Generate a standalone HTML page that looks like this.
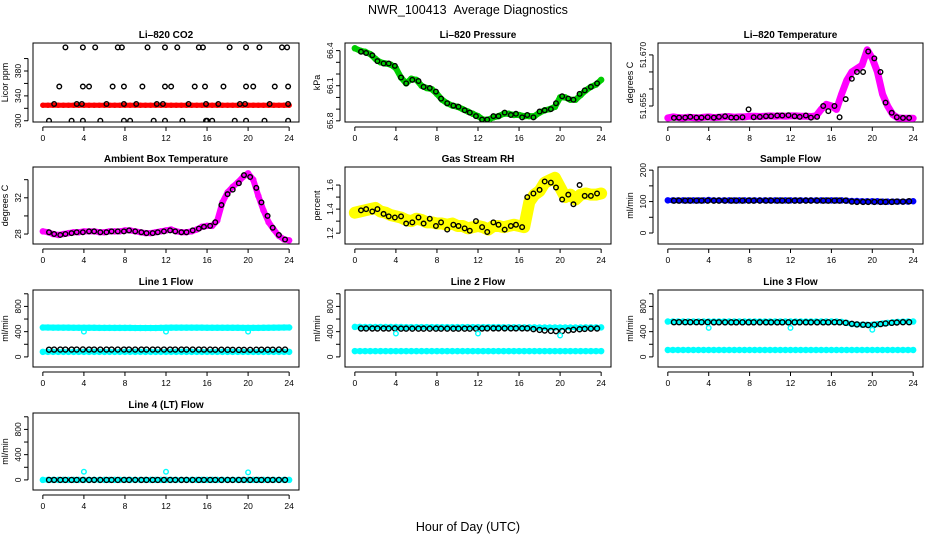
<!DOCTYPE html>
<html><head><meta charset="utf-8">
<style>
html,body{margin:0;padding:0;background:#fff;}
svg{display:block;font-family:"Liberation Sans",sans-serif;}
</style></head>
<body>
<svg id="c" width="936" height="540" viewBox="0 0 936 540">
<text x="468" y="14" text-anchor="middle" font-size="12.5">NWR_100413&#160;&#160;Average Diagnostics</text>
<text x="468" y="531" text-anchor="middle" font-size="12.5">Hour of Day (UTC)</text>
</svg>
<script>
const halfT=[0,0.5,1,1.5,2,2.5,3,3.5,4,4.5,5,5.5,6,6.5,7,7.5,8,8.5,9,9.5,10,10.5,11,11.5,12,12.5,13,13.5,14,14.5,15,15.5,16,16.5,17,17.5,18,18.5,19,19.5,20,20.5,21,21.5,22,22.5,23,23.5,24];
const blkT=[0.6,1.1,1.7,2.2,2.8,3.3,3.9,4.5,5.0,5.6,6.2,6.7,7.3,7.9,8.4,9.0,9.6,10.1,10.7,11.2,11.8,12.4,12.9,13.5,14.0,14.6,15.2,15.7,16.3,16.8,17.4,18.0,18.5,19.1,19.6,20.2,20.8,21.3,21.9,22.4,23.0,23.6];
const xTicks=[0,4,8,12,16,20,24];
// CO2
const co2Red=[325,325,325,325,325,325,325,325,325,325,325,325,325,325,325,325,325,325,325,325,325,325,325,325,325,325,325,325,325,325,325,325,325,325,325,325,325,325,325,325,325,325,325,325,325,325,325,325,325];
const co2T=[0.6,2.8,3.9,5.6,7.9,8.5,10.8,11.9,13.6,15.9,16.0,16.5,18.7,19.8,21.6,23.9,1.6,3.9,4.5,6.8,7.9,9.7,11.9,12.5,14.8,15.8,17.6,19.8,20.5,22.6,23.9,2.2,3.9,5.1,7.3,7.7,10.2,11.9,13.1,15.2,15.6,18.2,19.8,21.1,23.3,23.8,1.1,3.3,3.8,6.2,7.9,9.1,11.1,11.7,14.2,15.9,17.1,19.2,19.7,22.1,23.9];
const co2V=[300,300,300,300,300,300,300,300,300,300,300,300,300,300,300,300,355,355,355,355,355,355,355,355,355,355,355,355,355,355,355,418,418,418,418,418,418,418,418,418,418,418,418,418,418,418,327,327,327,327,327,327,327,327,327,327,327,327,327,327,327];
// Pressure
const presBand=[66.42,66.40,66.39,66.37,66.33,66.30,66.29,66.28,66.25,66.17,66.12,66.16,66.15,66.10,66.08,66.07,66.03,65.98,65.95,65.93,65.92,65.90,65.88,65.86,65.84,65.81,65.81,65.83,65.84,65.86,65.86,65.85,65.85,65.84,65.84,65.84,65.87,65.89,65.90,65.92,66.00,66.00,65.98,65.98,66.02,66.06,66.09,66.11,66.15];
const presBlk=[66.39,66.38,66.36,66.31,66.29,66.29,66.27,66.17,66.12,66.15,66.14,66.09,66.08,66.05,65.99,65.95,65.93,65.92,65.89,65.87,65.84,65.81,65.81,65.84,65.84,65.87,65.85,65.86,65.83,65.85,65.83,65.88,65.89,65.90,65.95,66.01,65.99,65.98,66.03,66.06,66.09,66.12];
// Li-820 temperature
const tempBand=[51.6515,51.6518,51.6516,51.6515,51.6517,51.6516,51.6515,51.6517,51.6518,51.6516,51.6517,51.6518,51.6519,51.6517,51.6518,51.6518,51.6520,51.6520,51.6519,51.6520,51.6521,51.6520,51.6521,51.6520,51.6521,51.6521,51.6520,51.6520,51.6519,51.6521,51.6540,51.6555,51.6550,51.6540,51.6585,51.6625,51.6650,51.6660,51.6670,51.6715,51.6690,51.6650,51.6585,51.6550,51.6525,51.6515,51.6514,51.6514,51.6514];
const tempBlk=[51.6515,51.6516,51.6516,51.6518,51.6516,51.6516,51.6517,51.6516,51.6518,51.6520,51.6516,51.6516,51.6517,51.6540,51.6517,51.6518,51.6520,51.6520,51.6522,51.6522,51.6523,51.6520,51.6518,51.6522,51.6516,51.6518,51.6550,51.6535,51.6550,51.6517,51.6570,51.6630,51.6650,51.6650,51.6710,51.6690,51.6650,51.6560,51.6530,51.6517,51.6515,51.6515];
// Ambient
const ambBand=[28.3,28.2,28.0,27.9,28.0,28.1,28.2,28.2,28.3,28.3,28.3,28.2,28.2,28.3,28.3,28.3,28.4,28.4,28.3,28.2,28.1,28.1,28.2,28.3,28.4,28.5,28.3,28.2,28.2,28.3,28.5,28.8,28.9,28.9,29.5,31.5,32.6,33.2,33.7,34.3,34.7,34.0,32.2,30.6,29.3,28.5,27.8,27.4,27.3];
const ambBlk=[28.2,28.0,27.9,28.0,28.1,28.2,28.2,28.3,28.3,28.2,28.2,28.3,28.3,28.3,28.4,28.3,28.2,28.1,28.1,28.2,28.3,28.4,28.3,28.2,28.2,28.4,28.6,28.8,28.9,29.3,31.2,32.4,32.9,33.6,34.5,34.3,33.1,31.5,30.0,28.7,27.9,27.4];
// RH
const rhBand=[1.37,1.38,1.39,1.40,1.41,1.38,1.37,1.35,1.34,1.33,1.31,1.30,1.32,1.31,1.29,1.29,1.28,1.28,1.27,1.28,1.26,1.26,1.24,1.25,1.26,1.25,1.23,1.26,1.26,1.25,1.26,1.27,1.26,1.25,1.46,1.52,1.55,1.62,1.64,1.66,1.58,1.50,1.52,1.48,1.52,1.53,1.52,1.52,1.53];
const rhBlk=[1.39,1.40,1.38,1.40,1.36,1.34,1.33,1.34,1.28,1.29,1.33,1.28,1.32,1.26,1.29,1.23,1.27,1.26,1.24,1.22,1.30,1.25,1.21,1.29,1.27,1.23,1.26,1.27,1.25,1.50,1.53,1.56,1.63,1.62,1.58,1.48,1.52,1.44,1.60,1.51,1.51,1.53];
// Sample flow
const sfBand=[104,104,104,104,104,104,104,104,105,104,104,104,104,104,104,104,104,104,104,104,104,104,104,104,104,104,104,104,104,104,104,104,104,104,104,103,102,102,101,101,101,101,100,100,100,100,100,100,101];
const sfBlk=[103,103,103,103,103,103,103,103,103,103,103,103,103,103,103,103,103,103,103,103,103,103,103,103,103,103,103,103,103,103,103,100,99,99,99,99,99,99,99,100,100,101];
// Line flows
const l1Up=[465,465,464,464,463,463,462,462,462,461,461,460,460,460,459,459,459,459,458,458,458,458,458,460,462,463,463,463,463,463,463,463,462,462,462,462,462,461,461,460,460,460,460,461,462,463,464,465,466];
const l1Low=[80,80,80,80,80,80,80,80,80,80,80,80,80,80,80,80,80,80,80,80,80,80,80,80,80,80,80,80,80,80,80,80,80,80,80,80,80,80,80,80,80,80,80,80,80,80,80,80,80];
const l1Blk=[115,116,117,117,117,117,118,117,117,117,117,117,117,117,117,117,117,117,117,117,117,117,117,117,117,117,117,116,116,115,115,114,113,112,112,113,114,115,115,115,116,116];
const l2Up=[475,475,474,474,474,474,473,473,473,473,472,472,472,472,472,472,472,471,471,471,471,471,471,471,471,471,471,471,471,470,470,470,469,468,467,467,466,466,466,466,466,466,466,466,466,467,468,468,468];
const l2Low=[92,92,92,92,92,92,92,92,92,92,92,92,92,92,92,92,92,92,92,92,92,92,92,92,92,92,92,92,92,92,92,92,92,92,92,92,92,92,92,92,92,92,92,92,92,92,92,92,92];
const l2Blk=[450,450,450,450,450,450,450,448,448,448,448,448,448,448,448,448,448,448,448,448,448,450,452,452,452,452,452,452,452,452,440,428,418,412,408,410,420,430,438,444,448,450];
const l3Up=[560,560,560,560,560,560,560,560,560,560,560,560,560,560,560,560,560,560,560,560,560,560,560,560,560,560,560,560,560,560,560,560,560,560,555,540,520,515,510,510,510,520,530,540,550,555,558,560,560];
const l3Low=[110,110,110,110,110,110,110,110,110,110,110,110,110,110,110,110,110,110,110,110,110,110,110,110,110,110,110,110,110,110,110,110,110,110,110,110,110,110,110,110,110,110,110,110,110,110,110,110,110];
const l3Blk=[550,550,550,550,550,550,550,548,548,548,548,548,548,548,548,548,548,548,548,548,548,548,548,548,548,548,548,548,550,548,540,525,515,510,505,510,520,530,540,545,550,550];
const l4Cyan=[0,0,0,0,0,0,0,0,0,0,0,0,0,0,0,0,0,0,0,0,0,0,0,0,0,0,0,0,0,0,0,0,0,0,0,0,0,0,0,0,0,0,0,0,0,0,0,0,0];
const l4Blk=[0,0,0,0,0,0,0,0,0,0,0,0,0,0,0,0,0,0,0,0,0,0,0,0,0,0,0,0,0,0,0,0,0,0,0,0,0,0,0,0,0,0,0];
const dipT=[4,12,20];
const l1Dip=[400,400,400];
const l2Dip=[370,370,340];
const l3Dip=[460,460,430];
const l4Dip=[130,130,120];

const NS='http://www.w3.org/2000/svg';
const svg=document.getElementById('c');
const colX=[[33,299],[345,611],[658,923]];
const rowY=[[43,122],[167,244],[290,367],[413,490]];
function mk(tag,attrs,parent){const e=document.createElementNS(NS,tag);for(const k in attrs)e.setAttribute(k,attrs[k]);(parent||svg).appendChild(e);return e;}

function panel(o){
  const g=mk('g',{});
  
  
  const [L,R]=colX[o.col],[T,B]=rowY[o.row];
  const pad=(R-L)*0.04/1.08;
  const x=v=>L+pad+(v/24)*(R-L-2*pad);
  const y=v=>B-(v-o.ylim[0])/(o.ylim[1]-o.ylim[0])*(B-T);
  const box=mk('rect',{x:L,y:T,width:R-L,height:B-T,fill:'none',stroke:'#000','stroke-width':1},g);
  
  
  const t=mk('text',{x:(L+R)/2,y:T-5,'text-anchor':'middle','font-size':10,'font-weight':'bold'},g);
  t.textContent=o.title;
  
  
  const xa=mk('g',{},g);
  
  
  mk('line',{x1:x(0),x2:x(24),y1:B+5,y2:B+5,stroke:'#000'},xa);
  xTicks.forEach(v=>{mk('line',{x1:x(v),x2:x(v),y1:B+5,y2:B+9,stroke:'#000'},xa);
    const tl=mk('text',{x:x(v),y:B+19,'text-anchor':'middle','font-size':8.5},xa);tl.textContent=v;
    
    });
  const ya=mk('g',{},g);
  
  
  const yt=o.yticks;
  mk('line',{x1:L-5,x2:L-5,y1:y(yt[0]),y2:y(yt[yt.length-1]),stroke:'#000'},ya);
  yt.forEach((v,i)=>{mk('line',{x1:L-9,x2:L-5,y1:y(v),y2:y(v),stroke:'#000'},ya);
    const lab=o.ylabels[i];
    if(lab!==''){const tl=mk('text',{x:L-12,y:y(v),'text-anchor':'middle','font-size':8.5,transform:`rotate(-90 ${L-12} ${y(v)})`},ya);tl.textContent=lab;
      
      }});
  const yl=mk('text',{x:L-25,y:(T+B)/2,'text-anchor':'middle','font-size':9,transform:`rotate(-90 ${L-25} ${(T+B)/2})`},g);
  yl.textContent=o.ylab;
  
  
  const clip='clip'+o.col+o.row;
  const cp=mk('clipPath',{id:clip},g);mk('rect',{x:L,y:T-4,width:R-L,height:B-T+4},cp);
  const dg=mk('g',{'clip-path':`url(#${clip})`},g);
  (o.bands||[]).forEach(b=>{
    const pts=b.t.map((tv,i)=>x(tv)+','+y(b.v[i])).join(' ');
    const pl=mk('polyline',{points:pts,fill:'none',stroke:b.c,'stroke-width':b.w,'stroke-linejoin':'round','stroke-linecap':'round'},dg);
    
    
    b.t.forEach((tv,i)=>{const c=mk('circle',{cx:x(tv),cy:y(b.v[i]),r:b.r||2.5,fill:'none',stroke:b.c,'stroke-width':1.5},dg);
      
      });
  });
  (o.pts||[]).forEach(p=>{
    p.t.forEach((tv,i)=>{const c=mk('circle',{cx:x(tv),cy:y(p.v[i]),r:p.r||2.3,fill:'none',stroke:p.c,'stroke-width':p.sw||1.4},dg);
      
      });
  });
}

panel({name:'co2-panel',col:0,row:0,title:'Li–820 CO2',ylab:'Licor ppm',ylim:[298,425],yticks:[300,320,340,360,380,400],ylabels:['300','','340','','380',''],
  bands:[{t:halfT,v:co2Red,c:'#f00',w:5,r:2}],pts:[{t:co2T,v:co2V,c:'#000'}]});
panel({name:'pressure-panel',col:1,row:0,title:'Li–820 Pressure',ylab:'kPa',ylim:[65.79,66.465],yticks:[65.8,65.9,66.0,66.1,66.2,66.3,66.4],ylabels:['65.8','','','66.1','','','66.4'],
  bands:[{t:halfT,v:presBand,c:'#0c0',w:6}],pts:[{t:blkT,v:presBlk,c:'#000'}]});
panel({name:'li820-temperature-panel',col:2,row:0,title:'Li–820 Temperature',ylab:'degrees C',ylim:[51.6503,51.6735],yticks:[51.655,51.660,51.665,51.670],ylabels:['51.655','','','51.670'],
  bands:[{t:halfT,v:tempBand,c:'#f0f',w:7}],pts:[{t:blkT,v:tempBlk,c:'#000'}]});
panel({name:'ambient-temperature-panel',col:0,row:1,title:'Ambient Box Temperature',ylab:'degrees C',ylim:[26.9,35.4],yticks:[28,30,32,34],ylabels:['28','','32',''],
  bands:[{t:halfT,v:ambBand,c:'#f0f',w:6}],pts:[{t:blkT,v:ambBlk,c:'#000'}]});
panel({name:'gas-stream-rh-panel',col:1,row:1,title:'Gas Stream RH',ylab:'percent',ylim:[1.11,1.75],yticks:[1.2,1.3,1.4,1.5,1.6],ylabels:['1.2','','1.4','','1.6'],
  bands:[{t:halfT,v:rhBand,c:'#ff0',w:12,r:4}],pts:[{t:blkT,v:rhBlk,c:'#000'}]});
panel({name:'sample-flow-panel',col:2,row:1,title:'Sample Flow',ylab:'ml/min',ylim:[-35,210],yticks:[0,50,100,150,200],ylabels:['0','','100','','200'],
  bands:[{t:halfT,v:sfBand,c:'#00f',w:5}],pts:[{t:blkT,v:sfBlk,c:'#000',r:2.5}]});
const flowTicks=[0,200,400,600,800,1000],flowLabs=['0','','400','','800',''];
panel({name:'line1-flow-panel',col:0,row:2,title:'Line 1 Flow',ylab:'ml/min',ylim:[-160,1060],yticks:flowTicks,ylabels:flowLabs,
  bands:[{t:halfT,v:l1Up,c:'#0ff',w:6},{t:halfT,v:l1Low,c:'#0ff',w:5}],pts:[{t:blkT,v:l1Blk,c:'#000',r:2.5},{t:dipT,v:l1Dip,c:'#0ff'}]});
panel({name:'line2-flow-panel',col:1,row:2,title:'Line 2 Flow',ylab:'ml/min',ylim:[-160,1060],yticks:flowTicks,ylabels:flowLabs,
  bands:[{t:halfT,v:l2Up,c:'#0ff',w:5},{t:halfT,v:l2Low,c:'#0ff',w:5}],pts:[{t:blkT,v:l2Blk,c:'#000',r:2.5},{t:dipT,v:l2Dip,c:'#0ff'}]});
panel({name:'line3-flow-panel',col:2,row:2,title:'Line 3 Flow',ylab:'ml/min',ylim:[-160,1060],yticks:flowTicks,ylabels:flowLabs,
  bands:[{t:halfT,v:l3Up,c:'#0ff',w:5},{t:halfT,v:l3Low,c:'#0ff',w:5}],pts:[{t:blkT,v:l3Blk,c:'#000',r:2.5},{t:dipT,v:l3Dip,c:'#0ff'}]});
panel({name:'line4-flow-panel',col:0,row:3,title:'Line 4 (LT) Flow',ylab:'ml/min',ylim:[-160,1060],yticks:flowTicks,ylabels:flowLabs,
  bands:[{t:halfT,v:l4Cyan,c:'#0ff',w:5}],pts:[{t:blkT,v:l4Blk,c:'#000',r:2.5},{t:dipT,v:l4Dip,c:'#0ff'}]});
</script>
</body></html>
